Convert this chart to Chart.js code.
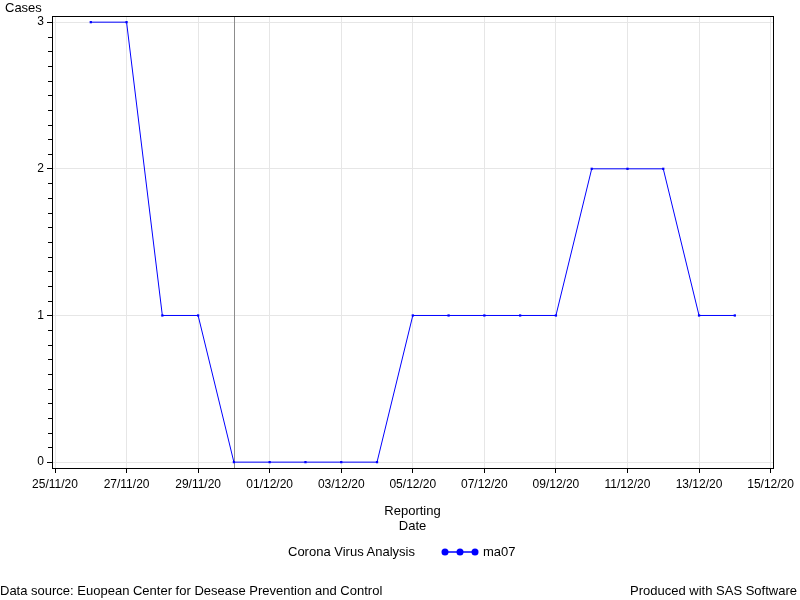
<!DOCTYPE html>
<html>
<head>
<meta charset="utf-8">
<script src="https://cdn.jsdelivr.net/npm/chart.js@4/dist/chart.umd.min.js"></script>
<style>
  html, body { margin: 0; padding: 0; background: #fff; }
  #wrap { position: relative; width: 800px; height: 600px; font-family: "Liberation Sans", Arial, sans-serif; color: #000; }
  #c { position: absolute; left: 0; top: 0; }
  .txt { position: absolute; font-size: 13px; line-height: 14px; white-space: nowrap; }
</style>
</head>
<body>
<div id="wrap">
  <canvas id="c" width="800" height="600"></canvas>
  <div class="txt" style="left:288px; top:545px;">Corona Virus Analysis</div>
  <svg style="position:absolute; left:440px; top:547px;" width="40" height="10">
    <line x1="5" y1="5" x2="35" y2="5" stroke="#0000ff" stroke-width="1.5"/>
    <circle cx="5" cy="5" r="3.5" fill="#0000ff"/>
    <circle cx="20" cy="5" r="3.5" fill="#0000ff"/>
    <circle cx="35" cy="5" r="3.5" fill="#0000ff"/>
  </svg>
  <div class="txt" style="left:483px; top:545px;">ma07</div>
  <div class="txt" style="left:0px; top:584px;">Data source: Euopean Center for Desease Prevention and Control</div>
  <div class="txt" style="right:3px; top:584px;">Produced with SAS Software</div>
</div>
<script>
// ---- data ----
const dates = ['26/11/20','27/11/20','28/11/20','29/11/20','30/11/20','01/12/20','02/12/20',
               '03/12/20','04/12/20','05/12/20','06/12/20','07/12/20','08/12/20','09/12/20',
               '10/12/20','11/12/20','12/12/20','13/12/20','14/12/20'];
const cases = [3,3,1,1,0,0,0,0,0,1,1,1,1,1,2,2,2,1,1];
const xTickLabels = ['25/11/20','27/11/20','29/11/20','01/12/20','03/12/20','05/12/20',
                     '07/12/20','09/12/20','11/12/20','13/12/20','15/12/20'];
const yTickValues = [0,1,2,3];
const referenceDate = '30/11/20';
const seriesName = 'ma07';

function dayNum(s) {
  const [d, m, y] = s.split('/').map(Number);
  return Date.UTC(2000 + y, m - 1, d) / 86400000;
}
const xTickValues = xTickLabels.map(dayNum);
const labelByDay = {};
xTickLabels.forEach((l, i) => { labelByDay[xTickValues[i]] = l; });
const points = dates.map((d, i) => ({ x: dayNum(d), y: cases[i] }));

const fontFam = '"Liberation Sans", Arial, sans-serif';
const font12 = { family: fontFam, size: 12 };
const font13 = { family: fontFam, size: 13 };

const framePlugin = {
  id: 'frame',
  beforeDatasetsDraw(chart) {
    const { ctx, chartArea: a, scales } = chart;
    const x = Math.round(scales.x.getPixelForValue(dayNum(referenceDate))) + 0.5;
    ctx.save();
    ctx.strokeStyle = '#8c8c8c';
    ctx.lineWidth = 1;
    ctx.beginPath();
    ctx.moveTo(x, a.top);
    ctx.lineTo(x, a.bottom);
    ctx.stroke();
    ctx.restore();
  },
  afterDraw(chart) {
    const { ctx, chartArea: a, scales } = chart;
    ctx.save();
    ctx.strokeStyle = '#000';
    ctx.lineWidth = 1;
    ctx.strokeRect(Math.round(a.left) + 0.5, Math.round(a.top) + 0.5,
                   Math.round(a.right - a.left), Math.round(a.bottom - a.top));
    // minor ticks on y axis
    ctx.beginPath();
    for (let k = 1; k < 30; k++) {
      if (k % 10 === 0) continue;
      const y = Math.round(scales.y.getPixelForValue(k / 10)) + 0.5;
      ctx.moveTo(a.left - 4, y);
      ctx.lineTo(a.left, y);
    }
    ctx.stroke();
    ctx.restore();
  }
};

new Chart(document.getElementById('c'), {
  type: 'line',
  data: {
    datasets: [{
      label: seriesName,
      data: points,
      borderColor: '#0000ff',
      backgroundColor: '#0000ff',
      borderWidth: 1,
      tension: 0,
      pointStyle: 'rect',
      pointRadius: 1.6,
      pointBorderWidth: 0,
      pointBackgroundColor: '#0000ff'
    }]
  },
  options: {
    responsive: false,
    animation: false,
    devicePixelRatio: 1,
    layout: { padding: { top: 0, left: 5, right: 27, bottom: 66 } },
    plugins: {
      legend: { display: false },
      tooltip: { enabled: false },
      title: {
        display: true,
        text: 'Cases',
        align: 'start',
        color: '#000',
        font: { ...font13, weight: 'normal', lineHeight: 15 / 13 },
        padding: { top: 1, bottom: 0 }
      }
    },
    scales: {
      x: {
        type: 'linear',
        min: dayNum(xTickLabels[0]) - 0.084,
        max: dayNum(xTickLabels[xTickLabels.length - 1]) + 0.067,
        afterBuildTicks: (s) => { s.ticks = xTickValues.map(v => ({ value: v })); },
        afterFit: (s) => { s.height = 66; },
        ticks: {
          autoSkip: false, maxRotation: 0, padding: 4, color: '#000', font: font12,
          callback: (v) => labelByDay[v] || ''
        },
        grid: { color: '#e6e6e6', tickColor: '#000', tickLength: 5, lineWidth: 1 },
        border: { display: false },
        title: {
          display: true,
          text: ['Reporting', 'Date'],
          color: '#000',
          font: { ...font13, lineHeight: 15 / 13 },
          padding: { top: 0, bottom: 0 }
        }
      },
      y: {
        type: 'linear',
        min: -0.04,
        max: 3.042,
        afterBuildTicks: (s) => { s.ticks = yTickValues.map(v => ({ value: v })); },
        afterFit: (s) => { s.width = 47; },
        ticks: { padding: 3, color: '#000', font: font12 },
        grid: { color: '#e6e6e6', tickColor: '#000', tickLength: 5, lineWidth: 1 },
        border: { display: false }
      }
    }
  },
  plugins: [framePlugin]
});
</script>
</body>
</html>
